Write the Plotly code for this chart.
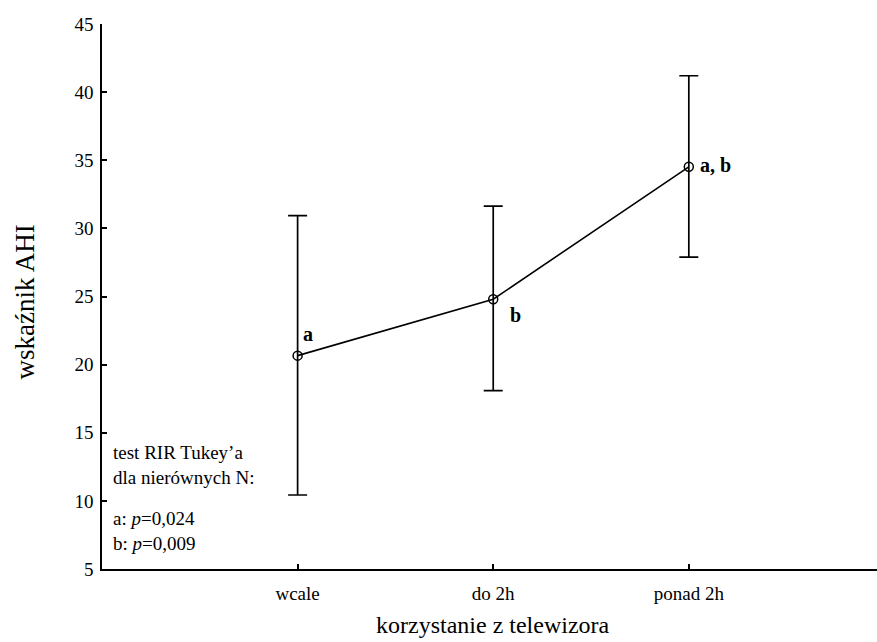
import plotly.graph_objects as go

# Mean AHI by TV usage, with asymmetric confidence limits
categories = ["wcale", "do 2h", "ponad 2h"]
means = [20.66, 24.80, 34.52]
upper = [30.94, 31.63, 41.20]
lower = [10.43, 18.09, 27.89]
group_labels = ["a", "b", "a, b"]
y_ticks = [5, 10, 15, 20, 25, 30, 35, 40, 45]

x_pos = [1, 2, 3]
err_plus = [u - m for u, m in zip(upper, means)]
err_minus = [m - l for m, l in zip(means, lower)]

FONT = "'Liberation Serif', 'Times New Roman', serif"

fig = go.Figure()
fig.add_trace(go.Scatter(
    x=x_pos, y=means,
    mode="lines+markers",
    line=dict(color="black", width=1.6),
    marker=dict(symbol="circle-open", size=9, color="black", line=dict(width=1.5)),
    error_y=dict(type="data", symmetric=False, array=err_plus, arrayminus=err_minus,
                 color="black", thickness=1.7, width=9.5),
    showlegend=False,
))

# significance letters next to the means
offsets = [(10, 22, "center"), (15, -16, "left"), (9, 2, "left")]
for xv, yv, lab, (dx, dy, anc) in zip(x_pos, means, group_labels, offsets):
    fig.add_annotation(x=xv, y=yv, xref="x", yref="y", text=f"<b>{lab}</b>",
                       showarrow=False, xanchor=anc, yanchor="middle",
                       xshift=dx, yshift=dy,
                       font=dict(family=FONT, size=20, color="black"))

# Tukey test note
note_font = dict(family=FONT, size=19, color="black")
fig.add_annotation(
    xref="paper", yref="y", x=0.011, y=12.6, xanchor="left", yanchor="middle",
    align="left", showarrow=False,
    text="test RIR Tukey’a<br>dla nierównych N:", font=note_font,
)
fig.add_annotation(
    xref="paper", yref="y", x=0.011, y=7.8, xanchor="left", yanchor="middle",
    align="left", showarrow=False,
    text="a: <i>p</i>=0,024<br>b: <i>p</i>=0,009", font=note_font,
)

# axis titles
fig.add_annotation(xref="x", yref="paper", x=2, y=-0.103, yanchor="middle",
                   text="korzystanie z telewizora", showarrow=False,
                   font=dict(family=FONT, size=24, color="black"))
fig.add_annotation(xref="paper", yref="paper", x=-0.1, y=0.49, xanchor="center",
                   yanchor="middle", textangle=-90, text="wskaźnik AHI",
                   showarrow=False, font=dict(family=FONT, size=27, color="black"))

fig.update_layout(
    width=877, height=642,
    margin=dict(l=102, r=0, t=24, b=73),
    paper_bgcolor="white", plot_bgcolor="white",
    font=dict(family=FONT, size=18, color="black"),
)
fig.update_xaxes(
    range=[0, 3.962], tickvals=x_pos, ticktext=categories,
    showline=True, linecolor="black", linewidth=1.6,
    ticks="inside", ticklen=5, tickcolor="black", tickwidth=1.5,
    showgrid=False, zeroline=False, ticklabelstandoff=6,
    tickfont=dict(family=FONT, size=19),
)
fig.update_yaxes(
    range=[5, 45], tickvals=y_ticks,
    showline=True, linecolor="black", linewidth=1.6,
    ticks="inside", ticklen=5, tickcolor="black", tickwidth=1.5,
    showgrid=False, zeroline=False, ticklabelstandoff=3,
    tickfont=dict(family=FONT, size=19),
)

fig.write_html("out.html")
